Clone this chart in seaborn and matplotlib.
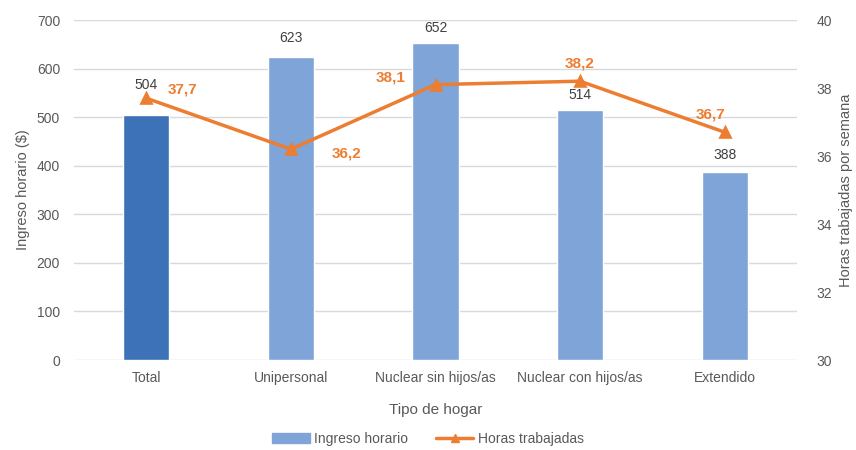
import numpy as np
import pandas as pd
import matplotlib
matplotlib.use("Agg")
import matplotlib.pyplot as plt
import seaborn as sns
from matplotlib.patches import Patch
from matplotlib.lines import Line2D

tipos = ["Total", "Unipersonal", "Nuclear sin hijos/as", "Nuclear con hijos/as", "Extendido"]
ingreso = [504, 623, 652, 514, 388]
horas = [37.7, 36.2, 38.1, 38.2, 36.7]
horas_txt = ["37,7", "36,2", "38,1", "38,2", "36,7"]

sns.set_style("white")
plt.rcParams['font.family'] = ['Liberation Sans', 'DejaVu Sans']

gris = '#595959'
azul_osc = '#3D71B8'
azul = '#7FA4D7'
naranja = '#ED7D31'

df = pd.DataFrame({"tipo": tipos, "ingreso": ingreso, "horas": horas})

fig = plt.figure(figsize=(8.56, 4.5), dpi=100)
ax = fig.add_axes([74 / 856, 90 / 450, 723 / 856, 340 / 450])

sns.barplot(data=df, x="tipo", y="ingreso", hue="tipo", palette=[azul_osc] + [azul] * 4,
            width=0.32, legend=False, ax=ax, saturation=1)
ax.set_ylim(0, 700)
ax.set_yticks(range(0, 701, 100))
ax.set_xlim(-0.5, 4.5)
ax.yaxis.grid(True, color='#D9D9D9', linewidth=1)
ax.set_axisbelow(True)
for s in ax.spines.values():
    s.set_visible(False)
ax.tick_params(length=0, colors=gris, labelsize=10)
ax.tick_params(axis='x', pad=8)
ax.tick_params(axis='y', pad=10)
ax.set_xlabel("Tipo de hogar", color=gris, fontsize=11, labelpad=13)
ax.set_ylabel("Ingreso horario ($)", color=gris, fontsize=10.5, labelpad=5)

# etiquetas de las barras (desplazamiento en puntos)
bar_off = [17, 9, 6, 6, 7]
for i, v in enumerate(ingreso):
    ax.annotate(str(v), (i, v), xytext=(0, bar_off[i]), textcoords='offset points',
                ha='center', va='bottom', color='#404040', fontsize=10)

ax2 = ax.twinx()
sns.pointplot(data=df, x="tipo", y="horas", color=naranja, markers='^', linestyles='-',
              ax=ax2, markersize=7, linewidth=2.5, errorbar=None)
ax2.set_ylim(30, 40)
ax2.set_yticks(range(30, 41, 2))
ax2.set_xlim(-0.5, 4.5)
for s in ax2.spines.values():
    s.set_visible(False)
ax2.tick_params(length=0, colors=gris, labelsize=10, pad=14)
ax2.set_ylabel("Horas trabajadas por semana", color=gris, fontsize=10.5, labelpad=5)
ax2.set_xlabel("")

lab_off = [(26, 6), (40, -3), (-32, 5), (0, 13), (-10, 13)]
for i, (h, t) in enumerate(zip(horas, horas_txt)):
    ax2.annotate(t, (i, h), xytext=lab_off[i], textcoords='offset points',
                 ha='center', va='center', color=naranja, fontsize=11, fontweight='bold')

handles = [Patch(color=azul, label="Ingreso horario"),
           Line2D([0], [0], color=naranja, lw=2.5, marker='^', markersize=6, label="Horas trabajadas")]
fig.legend(handles=handles, loc='center', bbox_to_anchor=(0.5, 11 / 450), ncol=2, frameon=False,
           fontsize=10, labelcolor=gris, handlelength=2.7, columnspacing=2.0, handletextpad=0.3)

fig.savefig("out.png", dpi=100)
